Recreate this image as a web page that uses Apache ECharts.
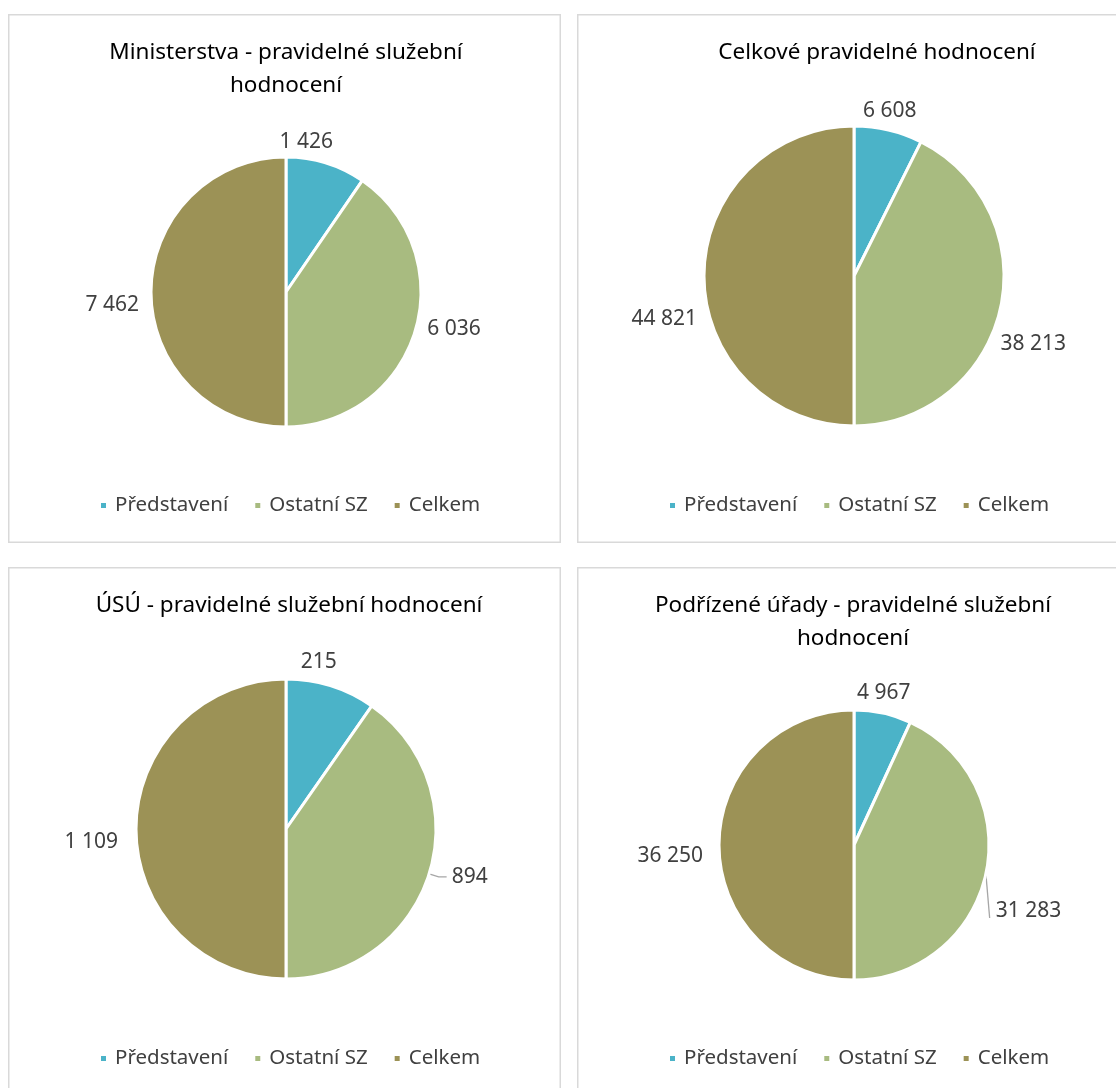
<!DOCTYPE html>
<html>
<head>
<meta charset="utf-8">
<script src="https://cdn.jsdelivr.net/npm/echarts@6/dist/echarts.min.js"></script>
<style>
html, body { margin: 0; padding: 0; background: #fff; overflow: hidden; width: 1116px; height: 1088px; }
.panel { position: absolute; width: 553px; height: 529px; }
</style>
</head>
<body>
<div id="c1" class="panel" style="left:8px;top:14px"></div>
<div id="c2" class="panel" style="left:577px;top:14px"></div>
<div id="c3" class="panel" style="left:8px;top:567px"></div>
<div id="c4" class="panel" style="left:577px;top:567px"></div>
<script>
// kategorie a hodnoty (čteno z grafu)
var categories = ['Představení', 'Ostatní SZ', 'Celkem'];
var ministerstva = [1426, 6036, 7462];
var celkove = [6608, 38213, 44821];
var usu = [215, 894, 1109];
var podrizene = [4967, 31283, 36250];
var titles = [
	'Ministerstva - pravidelné služební\nhodnocení',
	'Celkové pravidelné hodnocení',
	'ÚSÚ - pravidelné služební hodnocení',
	'Podřízené úřady - pravidelné služební\nhodnocení'
];
var colors = ['#4bb3c8', '#a8bb80', '#9c9256'];

var FONT = '"Noto Sans", "DejaVu Sans", sans-serif';

function fmt(v) {
	return String(v).replace(/\B(?=(\d{3})+(?!\d))/g, ' ');
}

// popisek umístit radiálně za okraj výseče (jako v Excelu), s drobným posunem
function makeLayout(cfg) {
	return function (params) {
		var i = params.dataIndex;
		var shift = cfg.shift[i] || [0, 0];
		var pts = params.labelLinePoints;
		if (i === cfg.leader) {
			if (!cfg.dropLine) return {};
			// odsazený popisek se svislou vodicí čarou
			var r0 = params.labelRect;
			var left = r0.x + shift[0], cy = r0.y + r0.height / 2 + shift[1];
			return {
				dx: shift[0],
				dy: shift[1],
				labelLinePoints: [pts[0], [left - 6, cy + 7]]
			};
		}
		if (!pts) return {};
		var dx = pts[1][0] - pts[0][0], dy = pts[1][1] - pts[0][1];
		var len = Math.sqrt(dx * dx + dy * dy) || 1;
		dx /= len; dy /= len;
		var r = params.labelRect;
		var k = 7 + Math.abs(dx) * r.width / 2 + Math.abs(dy) * r.height / 2;
		return {
			x: pts[0][0] + dx * k + shift[0],
			y: pts[0][1] + dy * k + shift[1],
			align: 'center',
			verticalAlign: 'middle'
		};
	};
}

function drawPie(id, title, values, cfg) {
	var myChart = echarts.init(document.getElementById(id));
	var data = [];
	for (var i = 0; i < categories.length; i++) {
		data.push({
			value: values[i],
			name: categories[i],
			labelLine: { lineStyle: { opacity: i === cfg.leader ? 1 : 0 } }
		});
	}
	var option = {
		color: colors,
		animation: false,
		graphic: [{
			type: 'rect',
			shape: { x: 0.75, y: 0.75, width: 551.5, height: 527.5 },
			style: { fill: 'none', stroke: '#d9d9d9', lineWidth: 1.5 },
			silent: true
		}],
		title: {
			text: title,
			left: cfg.titleX,
			top: 22,
			padding: 0,
			textAlign: 'center',
			textStyle: {
				fontFamily: FONT,
				fontSize: 22.5,
				fontWeight: 'normal',
				lineHeight: 33,
				color: '#000'
			}
		},
		legend: {
			data: categories,
			left: 91,
			top: 481,
			padding: 0,
			icon: 'rect',
			itemWidth: 7,
			itemHeight: 7,
			itemGap: 25,
			textStyle: { fontFamily: FONT, fontSize: 20.5, color: '#404040', padding: [0, 0, 0, 3] }
		},
		series: [{
			type: 'pie',
			center: cfg.center,
			radius: cfg.radius,
			startAngle: 90,
			avoidLabelOverlap: false,
			itemStyle: { borderColor: '#fff', borderWidth: 3 },
			label: {
				show: true,
				position: 'outside',
				formatter: function (p) { return fmt(p.value); },
				fontFamily: FONT,
				fontSize: 21,
				color: '#404040'
			},
			labelLine: {
				show: true,
				length: 10,
				length2: 8,
				lineStyle: { color: '#a6a6a6', width: 1.3 }
			},
			labelLayout: makeLayout(cfg),
			emphasis: { scale: false },
			data: data
		}]
	};
	myChart.setOption(option);
}

drawPie('c1', titles[0], ministerstva, {
	center: [278, 278], radius: 135, titleX: 278, leader: -1,
	shift: [[-27, 3], [5, -13], [-5, 13]]
});
drawPie('c2', titles[1], celkove, {
	center: [277, 262], radius: 150, titleX: 300, leader: -1,
	shift: [[-4, 4], [-7, 24], [0, 43]]
});
drawPie('c3', titles[2], usu, {
	center: [278, 262], radius: 150, titleX: 281, leader: 1,
	shift: [[-19, -2], [0, 0], [-11, 13]]
});
drawPie('c4', titles[3], podrizene, {
	center: [277, 278], radius: 135, titleX: 276, leader: 1, dropLine: true,
	shift: [[-4, 2], [-13, 35], [-9, 11]]
});
</script>
</body>
</html>
